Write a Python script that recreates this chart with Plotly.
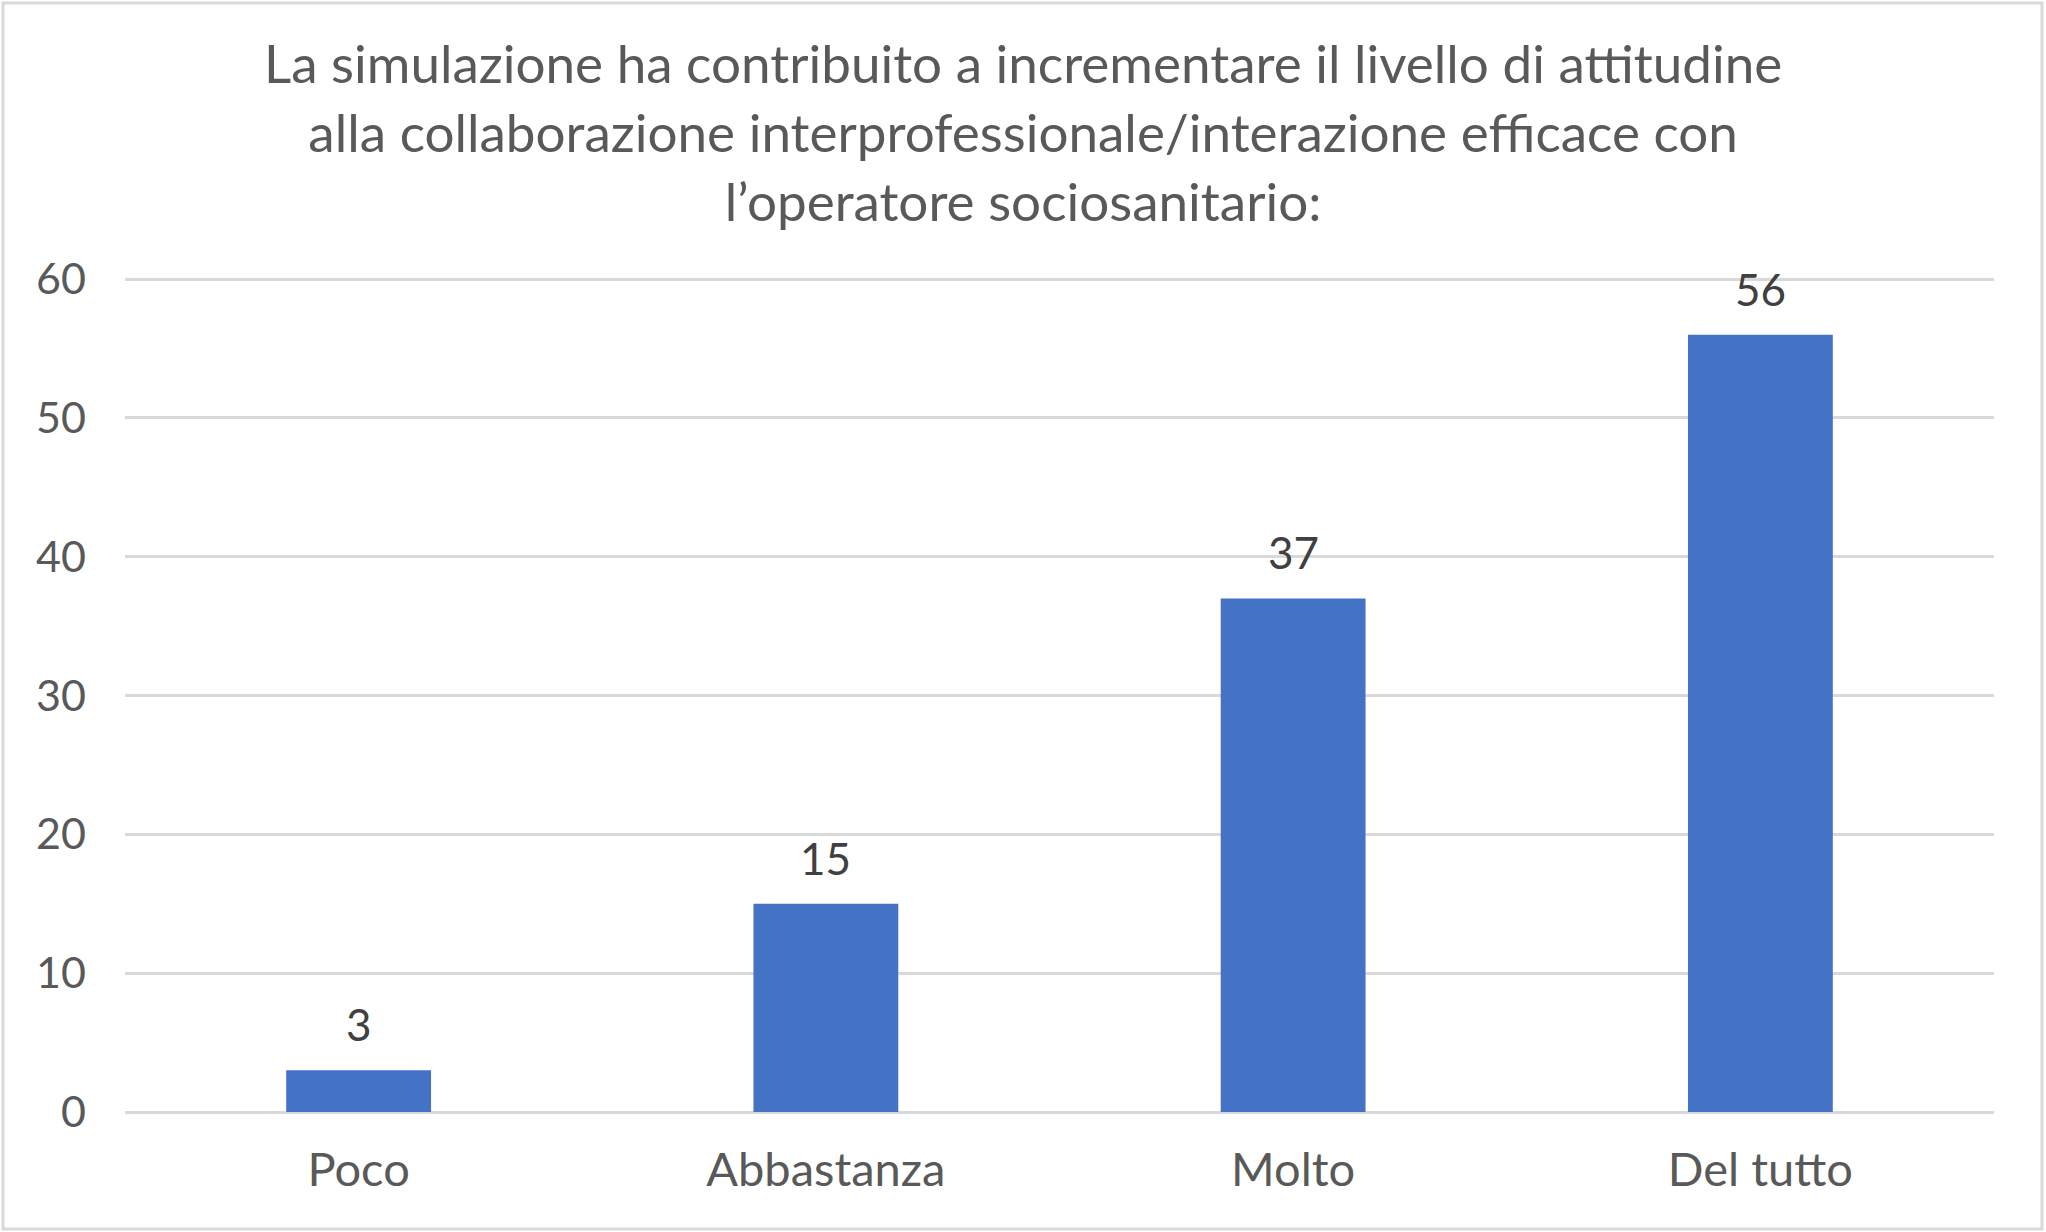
import plotly.graph_objects as go

categories = ["Poco", "Abbastanza", "Molto", "Del tutto"]
values = [3, 15, 37, 56]
y_ticks = [0, 10, 20, 30, 40, 50, 60]

title_text = ("La simulazione ha contribuito a incrementare il livello di attitudine<br>"
              "alla collaborazione interprofessionale/interazione efficace con<br>"
              "l\u2019operatore sociosanitario:")

W, H = 2046, 1232
ml, mr, mt, mb = 125, 52, 278, 120
pw = W - ml - mr
ph = H - mt - mb
FONT = "Lato, 'Open Sans', sans-serif"


def px_x(x):
    return (x - ml) / pw


def px_y(y):
    return 1 - (y - mt) / ph


fig = go.Figure()
fig.add_trace(go.Bar(
    x=categories, y=values,
    marker=dict(color="#4472C4", line=dict(width=0)),
    width=0.31,
    hoverinfo="x+y",
))

for c, v in zip(categories, values):
    fig.add_annotation(x=c, y=v, text=str(v), showarrow=False,
                       yanchor="bottom", yshift=18,
                       font=dict(family=FONT, size=44, color="#404040"))

# title
fig.add_annotation(xref="paper", yref="paper", x=px_x(1023), y=px_y(131),
                   xanchor="center", yanchor="middle", showarrow=False,
                   text=title_text, align="center",
                   font=dict(family=FONT, size=53, color="#595959"))

# outer chart border
fig.add_shape(type="rect", xref="paper", yref="paper",
              x0=px_x(3), x1=px_x(W - 4),
              y0=px_y(H - 3), y1=px_y(3),
              line=dict(color="#d9d9d9", width=3), fillcolor="rgba(0,0,0,0)", layer="below")

fig.update_layout(
    width=W, height=H,
    margin=dict(l=ml, r=mr, t=mt, b=mb, pad=0),
    paper_bgcolor="white", plot_bgcolor="white",
    showlegend=False,
    font=dict(family=FONT, color="#595959"),
    xaxis=dict(showgrid=False, showline=False, zeroline=False, ticks="",
               tickfont=dict(size=47, color="#595959"), ticklabelstandoff=26),
    yaxis=dict(range=[0, 60.08], tickvals=y_ticks, showgrid=True, gridcolor="#d9d9d9", gridwidth=3,
               zeroline=True, zerolinecolor="#d9d9d9", zerolinewidth=3, showline=False,
               ticks="", tickfont=dict(size=43, color="#595959"), ticklabelstandoff=38),
    bargap=0.69,
)

fig.write_html("out.html", config={"displayModeBar": False},
               post_script="document.body.style.margin='0';document.body.style.overflow='hidden';")
